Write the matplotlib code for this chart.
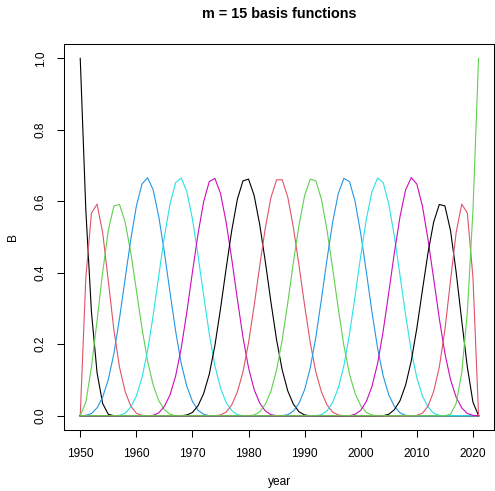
import matplotlib
matplotlib.use("Agg")
import matplotlib.pyplot as plt

plt.rcParams['font.family'] = ['Liberation Sans', 'DejaVu Sans']

year = list(range(1950, 2022))

# B-spline basis values read per year (m = 15)
b1 = [1, .574, .290, .120, .034, .004] + [0] * 66
b2 = [0, .387, .567, .592, .512, .378, .240, .136, .068, .027, .007, .001] + [0] * 60
b3 = [0, .038, .136, .266, .402, .518, .587, .591, .542, .457, .352, .245,
      .153, .086, .042, .017, .004, .000] + [0] * 54
b4 = [0, .001, .006, .022, .052, .101, .174, .272, .383, .492, .586, .648,
      .666, .632, .557, .457, .345, .237, .146, .082, .040, .015, .004, .000] + [0] * 48
b5 = [0] * 6 + [.000, .001, .007, .024, .055, .106, .181, .281, .392, .501, .592, .652,
                .665, .627, .550, .448, .336, .229, .140, .078, .037, .014, .003, .000] + [0] * 42
b6 = [0] * 12 + [.000, .001, .008, .026, .058, .111, .189, .290, .402, .509, .599, .655,
                 .664, .622, .542, .439, .327, .220, .134, .073, .035, .013, .003, .000] + [0] * 36
b7 = [0] * 18 + [.000, .002, .009, .028, .062, .116, .196, .299, .411, .518, .605, .657,
                 .662, .616, .534, .430, .317, .212, .128, .069, .032, .011, .002, .000] + [0] * 30
b8 = [0] * 24 + [.000, .002, .010, .030, .066, .122, .204, .308, .420, .526, .611, .660,
                 .660, .611, .526, .420, .308, .204, .122, .066, .030, .010, .002, .000] + [0] * 24
b9 = [0] * 30 + [.000, .002, .011, .032, .069, .128, .212, .317, .430, .534, .616, .662,
                 .657, .605, .518, .411, .299, .196, .116, .062, .028, .009, .002, .000] + [0] * 18
b10 = [0] * 36 + [.000, .003, .013, .035, .073, .134, .220, .327, .439, .542, .622, .664,
                  .655, .599, .509, .402, .290, .189, .111, .058, .026, .008, .001, .000] + [0] * 12
b11 = [0] * 42 + [.000, .003, .014, .037, .078, .140, .229, .336, .448, .550, .627, .665,
                  .652, .592, .501, .392, .281, .181, .106, .055, .024, .007, .001, .000] + [0] * 6
b12 = [0] * 48 + [.000, .004, .015, .040, .082, .146, .237, .345, .457, .557, .632, .666,
                  .648, .586, .492, .383, .272, .174, .101, .052, .022, .006, .001, 0]
b13 = [0] * 54 + [.000, .004, .017, .042, .086, .153, .245, .352, .457, .542, .591, .587,
                  .518, .402, .266, .136, .038, 0]
b14 = [0] * 60 + [.001, .007, .027, .068, .136, .240, .378, .512, .592, .567, .387, 0]
b15 = [0] * 66 + [.004, .034, .120, .290, .574, 1]

basis = [b1, b2, b3, b4, b5, b6, b7, b8, b9, b10, b11, b12, b13, b14, b15]
palette = ["black", "#DF536B", "#61D04F", "#2297E6", "#28E2E5", "#CD0BBC"]

fig = plt.figure(figsize=(4.95, 4.91), dpi=100)
ax = fig.add_axes([64.3 / 495, 61 / 491, (494.5 - 64.3) / 495, (447 - 61) / 491])

for i, b in enumerate(basis):
    ax.plot(year, b, color=palette[i % 6], lw=0.8)

ax.set_xlim(1947.16, 2023.84)
ax.set_ylim(-0.04, 1.04)
ax.set_xticks([1950, 1960, 1970, 1980, 1990, 2000, 2010, 2020])
ax.set_yticks([0, 0.2, 0.4, 0.6, 0.8, 1.0])
ax.set_yticklabels(["0.0", "0.2", "0.4", "0.6", "0.8", "1.0"], rotation=90, va='center')
ax.tick_params(length=5.2, width=0.75, labelsize=8.6, pad=7.5)
for s in ax.spines.values():
    s.set_linewidth(0.75)

fig.text(279.5 / 495, 1 - 14.5 / 491, "m = 15 basis functions", ha='center', va='center',
         fontsize=10.4, fontweight='bold')
fig.text(279.5 / 495, 1 - 482 / 491, "year", ha='center', va='center', fontsize=8.6)
fig.text(13 / 495, 1 - 237 / 491, "B", ha='center', va='center', rotation=90, fontsize=8.6)

fig.savefig("out.png", dpi=100)
